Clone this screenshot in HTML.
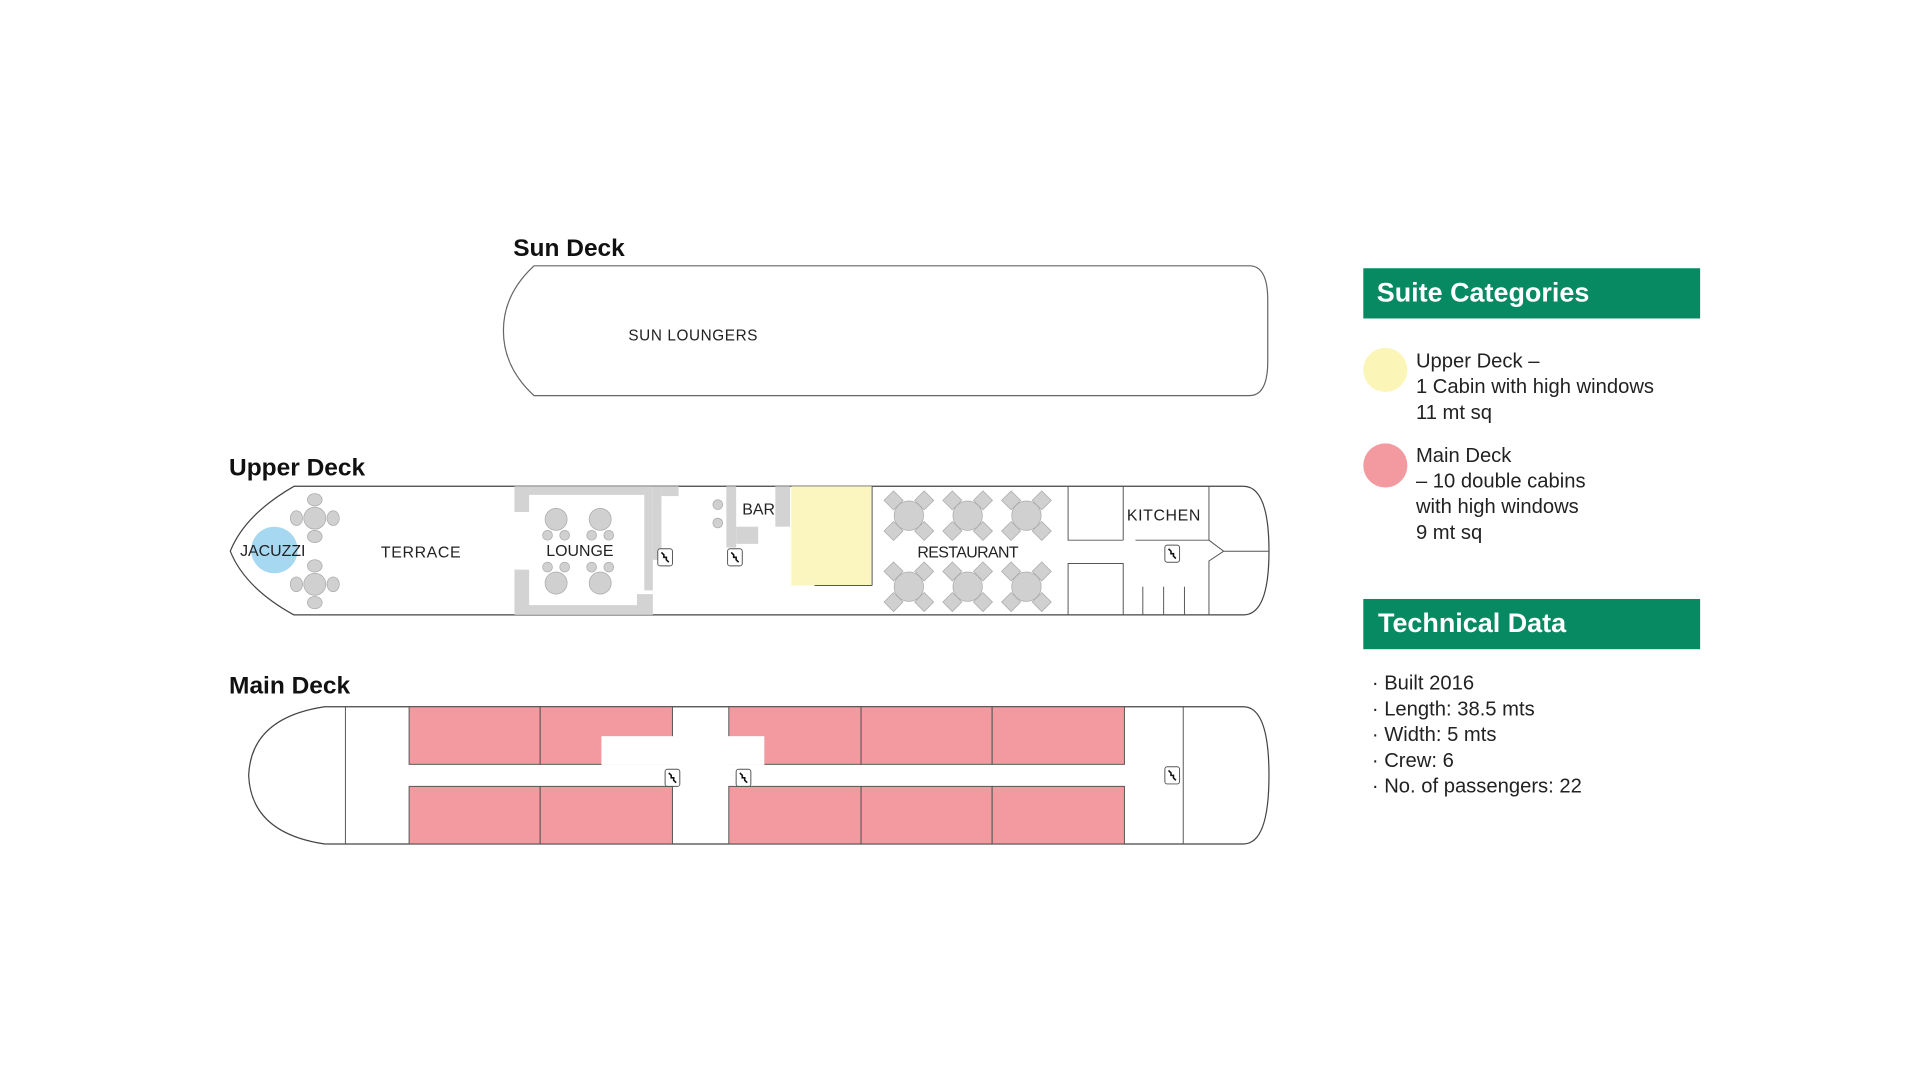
<!DOCTYPE html>
<html><head><meta charset="utf-8"><style>
html,body{margin:0;padding:0;background:#fff;width:1920px;height:1080px;overflow:hidden}
svg{display:block}
text{font-family:"Liberation Sans",sans-serif}
</style></head><body>
<svg width="1920" height="1080" viewBox="0 0 1567.5 881.7" preserveAspectRatio="none" xmlns="http://www.w3.org/2000/svg">
<defs>
<g id="st"><rect x="-6" y="-7" width="12" height="14" rx="2" fill="#fff" stroke="#555" stroke-width="0.8"/><path d="M-3,-4 L-1,-2 L-1,0 L1,0 L1,2 L3,4" fill="none" stroke="#111" stroke-width="1.3"/></g>
<g id="tb"><g fill="#d0d0d0" stroke="#aaa" stroke-width="0.6"><rect x="-18" y="-18" width="11" height="11" transform="rotate(45 -12.5 -12.5)"/><rect x="7" y="-18" width="11" height="11" transform="rotate(45 12.5 -12.5)"/><rect x="-18" y="7" width="11" height="11" transform="rotate(45 -12.5 12.5)"/><rect x="7" y="7" width="11" height="11" transform="rotate(45 12.5 12.5)"/><circle r="12"/></g></g>
<g id="cl"><g fill="#d0d0d0" stroke="#aaa" stroke-width="0.6"><circle r="9"/><ellipse cx="0" cy="-15" rx="6" ry="5"/><ellipse cx="0" cy="15" rx="6" ry="5"/><ellipse cx="-15" cy="0" rx="5" ry="6"/><ellipse cx="15" cy="0" rx="5" ry="6"/></g></g>
</defs>

<text x="419" y="209" font-size="20" font-weight="bold" fill="#111">Sun Deck</text>
<path d="M436,217 H1020 Q1035,217 1035,245 V295 Q1035,323 1020,323 H436 Q411,300 411,270 Q411,240 436,217 Z" fill="#fff" stroke="#666" stroke-width="1"/>
<text x="513" y="278" font-size="12.5" fill="#222" letter-spacing="0.5">SUN LOUNGERS</text>

<text x="187" y="388" font-size="20" font-weight="bold" fill="#111">Upper Deck</text>
<path d="M240,397 H1015 Q1036,397 1036,450 Q1036,502 1015,502 H240 Q200,480 188,450 Q200,420 240,397 Z" fill="#fff" stroke="#444" stroke-width="1"/>
<circle cx="224" cy="449" r="19" fill="#a6d8f2"/>
<use href="#cl" x="257" y="423"/><use href="#cl" x="257" y="477"/>
<text x="196" y="454" font-size="13" fill="#222">JACUZZI</text>
<text x="311" y="455" font-size="13" fill="#222" letter-spacing="0.5">TERRACE</text>
<g fill="#d3d3d3">
<path d="M420,397 H533 V482 H526 V404 H432 V418 H420 Z"/>
<path d="M420,465 H432 V494 H520 V485 H533 V502 H420 Z"/>
<rect x="533" y="397" width="7" height="60"/><rect x="540" y="397" width="14" height="8"/>
<rect x="593" y="397" width="8" height="50"/><rect x="601" y="430" width="18" height="14"/>
<rect x="633" y="397" width="12" height="33"/>
</g>
<g fill="#d0d0d0" stroke="#aaa" stroke-width="0.6">
<circle cx="454" cy="424" r="9"/><circle cx="490" cy="424" r="9"/><circle cx="454" cy="476" r="9"/><circle cx="490" cy="476" r="9"/>
<ellipse cx="447" cy="437" rx="4" ry="4"/><ellipse cx="461" cy="437" rx="4" ry="4"/><ellipse cx="483" cy="437" rx="4" ry="4"/><ellipse cx="497" cy="437" rx="4" ry="4"/>
<ellipse cx="447" cy="463" rx="4" ry="4"/><ellipse cx="461" cy="463" rx="4" ry="4"/><ellipse cx="483" cy="463" rx="4" ry="4"/><ellipse cx="497" cy="463" rx="4" ry="4"/>
<circle cx="586" cy="412" r="4"/><circle cx="586" cy="427" r="4"/>
</g>
<text x="446" y="454" font-size="13" fill="#222">LOUNGE</text>
<use href="#st" x="543" y="455"/><use href="#st" x="600" y="455"/>
<text x="606" y="420" font-size="13" fill="#222">BAR</text>
<rect x="646" y="397" width="66" height="81" fill="#fbf6c0"/>
<line x1="712" y1="397" x2="712" y2="478" stroke="#555" stroke-width="0.8"/>
<line x1="665" y1="478" x2="712" y2="478" stroke="#555" stroke-width="0.8"/>
<use href="#tb" x="742" y="421"/><use href="#tb" x="790" y="421"/><use href="#tb" x="838" y="421"/>
<use href="#tb" x="742" y="479"/><use href="#tb" x="790" y="479"/><use href="#tb" x="838" y="479"/>
<text x="749" y="455" font-size="13" fill="#222" letter-spacing="-0.5">RESTAURANT</text>
<g stroke="#555" stroke-width="0.8" fill="none">
<path d="M872,397 V441 H917"/><path d="M872,502 V460 H917 V502"/>
<line x1="917" y1="397" x2="917" y2="441"/><line x1="927" y1="441" x2="987" y2="441"/>
<line x1="987" y1="397" x2="987" y2="441"/>
<path d="M987,441 L999,450 L987,458 V502"/><line x1="999" y1="450" x2="1036" y2="450"/>
<line x1="933" y1="479" x2="933" y2="502"/><line x1="950" y1="479" x2="950" y2="502"/><line x1="967" y1="479" x2="967" y2="502"/>
</g>
<text x="920" y="425" font-size="13" fill="#222" letter-spacing="0.5">KITCHEN</text>
<use href="#st" x="957" y="452"/>

<text x="187" y="566" font-size="20" font-weight="bold" fill="#111">Main Deck</text>
<path d="M265,577 H1015 Q1036,577 1036,633 Q1036,689 1015,689 H265 Q205,680 203,633 Q205,586 265,577 Z" fill="#fff" stroke="#444" stroke-width="1"/>
<g fill="#f29aa0" stroke="#555" stroke-width="0.8">
<rect x="334" y="577" width="107" height="47"/><rect x="441" y="577" width="108" height="47"/>
<rect x="595" y="577" width="108" height="47"/><rect x="703" y="577" width="107" height="47"/><rect x="810" y="577" width="108" height="47"/>
<rect x="334" y="642" width="107" height="47"/><rect x="441" y="642" width="108" height="47"/>
<rect x="595" y="642" width="108" height="47"/><rect x="703" y="642" width="107" height="47"/><rect x="810" y="642" width="108" height="47"/>
</g>
<rect x="491" y="601" width="133" height="23.5" fill="#fff"/>
<g stroke="#555" stroke-width="0.8"><line x1="282" y1="577" x2="282" y2="689"/><line x1="966" y1="577" x2="966" y2="689"/></g>
<use href="#st" x="549" y="635"/><use href="#st" x="607" y="635"/><use href="#st" x="957" y="633"/>

<rect x="1113" y="219" width="275" height="41" fill="#078a62"/>
<text x="1124" y="246" font-size="22" font-weight="bold" fill="#fff">Suite Categories</text>
<circle cx="1131" cy="302" r="18" fill="#fbf6b8"/>
<circle cx="1131" cy="380" r="18" fill="#f29aa0"/>
<g font-size="16.5" fill="#222">
<text x="1156" y="300">Upper Deck –</text><text x="1156" y="321">1 Cabin with high windows</text><text x="1156" y="342">11 mt sq</text>
<text x="1156" y="377">Main Deck</text><text x="1156" y="398">– 10 double cabins</text><text x="1156" y="419">with high windows</text><text x="1156" y="440">9 mt sq</text>
</g>
<rect x="1113" y="489" width="275" height="41" fill="#078a62"/>
<text x="1125" y="516" font-size="22" font-weight="bold" fill="#fff">Technical Data</text>
<g font-size="16.5" fill="#222">
<text x="1120" y="563">· Built 2016</text><text x="1120" y="584">· Length: 38.5 mts</text><text x="1120" y="605">· Width: 5 mts</text><text x="1120" y="626">· Crew: 6</text><text x="1120" y="647">· No. of passengers: 22</text>
</g>
</svg>
</body></html>
